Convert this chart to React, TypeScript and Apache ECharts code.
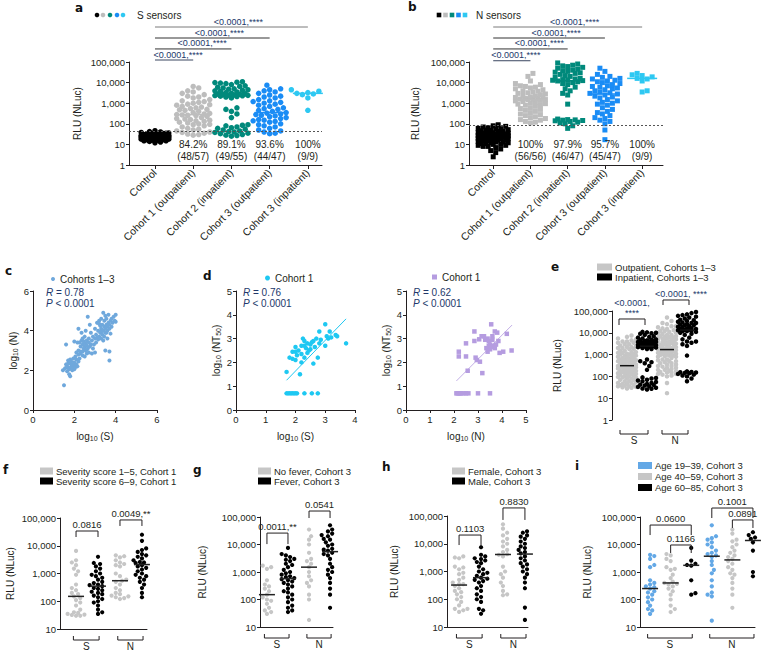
import React, { useEffect, useRef } from "react";
import * as echarts from "echarts";

/* ===================== DATA ===================== */
const sensorGroups = ["Control", "Cohort 1 (outpatient)", "Cohort 2 (inpatient)", "Cohort 3 (outpatient)", "Cohort 3 (inpatient)"];

// a – S sensors (RLU)
const sControl = [12,13,14,15,15,16,16,17,17,18,18,18,19,19,19,20,20,20,20,21,21,21,21,22,22,22,22,23,23,23,23,24,24,24,24,25,25,25,26,26,26,27,27,27,28,28,29,29,30,30,31,32,33,34,35,36,38,40,42,46];
const sCohort1Out = [6500,5500,4000,3500,3000,2600,2200,2000,1800,1500,1300,1200,1100,1000,900,850,800,700,650,600,550,500,480,450,400,350,320,300,280,270,260,250,230,200,180,170,160,150,140,130,120,110,100,95,90,80,70,60,55,50,45,40,38,35,32,30,28];
const sCohort2In = [11000,10500,10000,9500,9000,8000,7000,6500,6000,5500,5000,4800,4500,4200,4000,3800,3500,3300,3000,2900,2800,2700,2600,2500,2450,2400,2350,2300,2200,2100,2000,1800,600,500,400,300,200,90,85,80,70,65,60,55,50,45,42,40,38,35,33,30,28,27,25];
const sCohort3Out = [7500,5000,4500,4000,3500,3000,2500,2200,2000,1800,1500,1300,1200,1100,1000,900,800,700,600,550,500,450,400,350,330,300,280,260,240,220,200,180,160,150,140,130,120,100,90,80,70,60,50,45,40,35,33];
const sCohort3In = [4500,4200,3800,3300,3000,2800,2600,1800,450];
const sPercent = ["", "84.2%", "89.1%", "93.6%", "100%"];
const sFraction = ["", "(48/57)", "(49/55)", "(44/47)", "(9/9)"];
const sCutoff = 45;

// b – N sensors (RLU)
const nControl = [2.5,4,5,6,7,8,8,9,9,10,10,11,11,12,12,13,13,14,14,15,15,16,16,17,17,18,18,19,19,20,20,21,21,22,22,23,23,24,24,25,25,26,26,27,27,28,28,29,30,30,31,32,33,34,35,36,37,38,40,42,44,46,48,50,52,55,58,60,65,70,75,80,90];
const nCohort1Out = [28000,20000,12000,9000,8000,7000,6500,6000,5500,5000,4500,4000,3800,3500,3200,3000,2800,2600,2400,2200,2000,1900,1800,1700,1700,1600,1600,1500,1500,1400,1300,1200,1100,1000,950,900,850,800,700,600,550,500,450,400,350,300,280,250,220,200,180,160,150,130,120,110];
const nCohort2In = [90000,80000,70000,65000,60000,55000,50000,45000,40000,38000,35000,32000,30000,28000,25000,22000,20000,18000,16000,15000,14000,13500,13000,12500,12000,11000,10000,9000,8000,6000,5000,4000,3000,2500,900,170,160,155,150,145,140,130,120,110,100,80,60];
const nCohort3Out = [50000,35000,25000,20000,18000,16000,15000,13000,12000,11000,10000,9000,8000,7000,6500,6000,5500,5000,4500,4000,3500,3200,3000,2800,2500,2200,2000,1800,1500,1300,1100,1000,900,800,600,500,400,350,300,250,200,180,150,130,100,50,17];
const nCohort3In = [28000,24000,22000,19000,16000,15000,12000,4000,3500];
const nPercent = ["", "100%", "97.9%", "95.7%", "100%"];
const nFraction = ["", "(56/56)", "(46/47)", "(45/47)", "(9/9)"];
const nCutoff = 87;

const pAll = "<0.0001,****";

// c – log10(S) vs log10(N), cohorts 1–3
const corrSN = [
  [1.5,1.25],[1.45,2.0],[1.55,2.1],[1.6,2.3],[1.6,3.3],[1.65,2.2],[1.65,1.95],[1.7,2.15],[1.7,2.5],[1.7,2.35],[1.75,1.8],[1.75,2.05],
  [1.8,1.7],[1.8,2.35],[1.8,2.55],[1.85,2.2],[1.85,2.45],[1.85,2.15],[1.9,2.1],[1.9,2.3],[1.9,2.0],[1.95,2.2],[1.95,2.6],
  [2.0,2.25],[2.0,2.4],[2.0,3.45],[2.0,2.05],[2.05,2.15],[2.05,2.7],[2.1,2.3],[2.1,2.9],[2.1,2.55],[2.15,2.2],[2.15,3.4],
  [2.2,2.45],[2.2,3.0],[2.2,4.1],[2.2,2.8],[2.25,2.6],[2.25,3.4],[2.3,2.85],[2.3,3.2],[2.3,2.95],[2.35,3.5],[2.35,3.9],
  [2.4,2.95],[2.4,3.3],[2.4,3.6],[2.4,2.75],[2.45,3.1],[2.45,3.45],[2.5,2.7],[2.5,3.2],[2.5,3.7],[2.55,3.0],[2.55,3.35],
  [2.55,4.0],[2.6,3.25],[2.6,3.5],[2.6,2.85],[2.6,3.05],[2.65,3.1],[2.65,4.7],[2.7,3.4],[2.7,3.6],[2.7,2.9],[2.75,3.2],
  [2.75,4.3],[2.8,3.3],[2.8,3.9],[2.85,3.5],[2.85,2.85],[2.9,3.7],[2.9,3.1],[2.95,3.3],[3.0,3.6],[3.0,4.1],[3.0,2.9],
  [3.05,3.8],[3.05,3.4],[3.1,3.65],[3.1,4.4],[3.15,3.55],[3.15,4.0],[3.2,3.7],[3.2,4.5],[3.2,4.35],[3.25,3.9],[3.25,4.25],
  [3.3,3.6],[3.3,4.1],[3.3,4.6],[3.3,3.95],[3.35,3.8],[3.35,4.3],[3.4,4.0],[3.4,4.9],[3.4,3.5],[3.45,4.2],[3.45,4.5],
  [3.45,3.7],[3.5,3.9],[3.5,4.1],[3.5,4.75],[3.5,3.0],[3.55,4.3],[3.55,4.6],[3.55,3.9],[3.6,4.0],[3.6,4.2],[3.6,3.6],
  [3.65,4.4],[3.65,4.8],[3.7,4.1],[3.7,4.3],[3.7,2.5],[3.7,2.95],[3.75,4.5],[3.75,3.85],[3.8,4.2],[3.8,4.6],[3.85,4.4],
  [3.9,4.7],[3.95,4.5],[4.0,4.8],[4.0,4.45]
];
// d – log10(NT50) vs log10(S) and log10(N), cohort 1
const nt50VsS = [
  [1.7,0.7],[1.75,0.7],[1.8,0.7],[1.85,0.7],[1.9,0.7],[1.95,0.7],[2.0,0.7],[2.05,0.7],[2.3,0.7],[2.55,0.7],[2.75,0.7],
  [1.7,1.6],[1.8,2.2],[1.9,2.45],[1.9,2.15],[2.0,2.45],[2.0,2.1],[2.0,2.65],[2.05,2.3],[2.1,2.5],[2.15,1.5],[2.2,2.0],
  [2.2,2.7],[2.2,2.35],[2.25,3.0],[2.3,2.9],[2.3,2.7],[2.3,2.2],[2.35,2.6],[2.4,2.8],[2.4,2.4],[2.45,2.5],[2.5,2.55],
  [2.5,2.75],[2.55,2.85],[2.6,2.9],[2.6,1.95],[2.65,2.65],[2.7,3.0],[2.75,2.2],[2.8,3.3],[2.8,2.8],[2.85,2.95],[3.0,3.6],
  [3.0,2.7],[3.05,3.1],[3.1,3.0],[3.15,3.3],[3.2,3.05],[3.35,3.15],[3.4,3.1],[3.7,2.8]
];
const fitNt50S = [[1.7,1.25],[3.7,3.83]];
const nt50VsN = [
  [2.1,0.7],[2.15,0.7],[2.2,0.7],[2.25,0.7],[2.3,0.7],[2.4,0.7],[2.5,0.7],[2.6,0.7],[3.0,0.7],[3.5,0.7],
  [2.2,2.45],[2.2,2.25],[2.5,2.25],[2.5,2.8],[2.57,1.65],[2.85,3.3],[2.85,2.9],[2.95,2.1],[2.9,2.2],[3.08,2.03],[3.18,1.55],
  [3.05,2.97],[3.15,3.1],[3.25,3.1],[3.3,2.95],[3.35,2.6],[3.4,2.45],[3.4,3.0],[3.45,2.7],[3.45,2.9],[3.5,2.55],[3.5,2.75],
  [3.55,3.6],[3.55,2.65],[3.6,3.1],[3.6,2.95],[3.65,2.7],[3.7,3.3],[3.7,2.6],[3.75,2.75],[3.8,3.25],[3.85,2.9],[3.9,2.4],
  [4.05,2.45],[4.2,3.2],[4.4,2.5]
];
const fitNt50N = [[2.1,1.22],[4.42,3.57]];
const corrStats = [["0.78", "0.0001"], ["0.76", "0.0001"], ["0.62", "0.0001"]];

// e – outpatient vs inpatient (cohorts 1–3), from panels a and b
const ePValS = "<0.0001,\n****";
const ePValN = "<0.0001, ****";

// f – severity score, cohort 1
const sevLowS = [6500,3000,2500,2000,1500,1200,900,400,300,250,200,180,150,130,110,90,70,50,40,38,35,33,32,30,30];
const sevHighS = [4000,2400,2200,1800,1500,1200,1000,900,800,700,600,500,450,400,380,350,300,280,250,220,200,180,160,140,120,100,90,70,50,40,35];
const sevLowN = [4500,4200,3800,3000,2500,2200,2000,1800,1000,800,600,550,500,400,300,250,200,180,160,150,140,130,120];
const sevHighN = [25000,15000,8000,7000,6000,5000,4500,4000,3500,3000,2800,2600,2500,2400,2200,2000,1800,1600,1400,1200,1000,900,800,700,600,500,400,300,200,140];
// g – fever, cohort 3
const noFeverS = [1700,1500,1300,500,350,300,250,200,150,120,100,90,70,50,40,35,30];
const feverS = [7500,4500,4000,3500,3000,2800,2500,2000,1800,1500,1200,1000,900,800,700,650,600,550,500,450,400,350,300,250,200,180,150,120,100,80,60,50,40,35];
const noFeverN = [35000,20000,15000,10000,5000,3000,2500,2000,1500,1000,700,500,400,300,150,100,18];
const feverN = [50000,35000,30000,25000,22000,20000,18000,16000,15000,13000,12000,10000,9000,8000,7000,6500,6000,5500,5000,4500,4000,3500,3000,2500,2000,1500,1200,1000,800,600,400,300,250,150,50];
// h – sex, cohort 3
const femaleS = [3500,3200,3000,1500,1400,1200,900,800,600,500,400,350,350,300,250,200,180,150,120,100,80,60,45,45,40,35];
const maleS = [7500,4000,3500,3000,2800,2500,2200,2000,1500,1200,1000,900,800,700,600,550,500,450,400,300,250,200,150,120,100,80,45,40,30];
const femaleN = [50000,35000,25000,20000,15000,12000,10000,8000,6000,5000,4200,4000,3500,1500,1000,800,600,400,300,200,150,140];
const maleN = [28000,25000,20000,18000,15000,13000,12000,10000,9000,8000,7000,6000,5500,5000,4500,4000,3500,3000,2500,2000,1800,1500,1200,1000,800,600,400,250,50,18];
// i – age, cohort 3
const age1S = [4200,3800,3000,1800,1500,500,400,350,300,280,250,200,180,150,120,100,80,60,45,40,30];
const age2S = [4500,4000,3000,2500,1500,1300,1200,800,600,450,400,370,350,300,250,200,150,100,60,45,35];
const age3S = [7500,2600,2000,1800,1700,500,170,150];
const age1N = [50000,20000,17000,15000,12000,10000,8000,6000,5000,4500,4000,3500,2500,1800,1200,900,500,300,180,150,130,17];
const age2N = [35000,25000,15000,13000,10000,8000,6000,5000,4000,3500,3000,2500,2000,1500,1200,900,800,600,400,250,150,50];
const age3N = [28000,22000,18000,16000,12000,6000,1000,700];

// significance annotations: [from, to, level (RLU), text]
const sigA = [[0, 4, 5.0e6, pAll], [0, 3, 1.46e6, pAll], [0, 2, 4.3e5, pAll], [0, 1, 1.25e5, pAll]];
const sigB = [[0, 4, 5.0e6, pAll], [0, 3, 1.46e6, pAll], [0, 2, 4.3e5, pAll], [0, 1, 1.15e5, pAll]];
const sigE = [[-0.4, 0.9, 43000, ePValS], [1.8, 3.1, 320000, ePValN]];
const sigF = [[0, 1, 34000, "0.0816"], [2, 3, 85000, "0.0049,**"]];
const sigG = [[0, 1, 26000, "0.0011,**"], [2, 3, 165000, "0.0541"]];
const sigH = [[0, 1, 20600, "0.1103"], [2, 3, 195000, "0.8830"]];
const sigI = [[0, 2, 51000, "0.0600"], [1, 2, 9600, "0.1166"], [3, 5, 212000, "0.1001"], [4, 5, 78000, "0.0891"]];

/* ===================== STYLE / LAYOUT ===================== */
const FONT = "'Liberation Sans', Arial, Helvetica, sans-serif";
const TXT = "#231f20";
const NAVY = "#22386a";
const AXC = "#231f20";
const sensorColors = ["#000000", "#bdbdbd", "#00897b", "#1a8cf5", "#2ec8f2"];
const GRAY = "#c6c6c6";
const BLACK = "#000000";
const AGEBLUE = "#63a8e6";

const BOX: any = {
  a: { left: 129, top: 62, width: 193, height: 103, xmin: -0.68, xmax: 4.37, ymin: 1, ymax: 1e5 },
  b: { left: 469, top: 62, width: 194, height: 103, xmin: -0.65, xmax: 4.56, ymin: 1, ymax: 1e5 },
  c: { left: 33, top: 291, width: 124, height: 119, xmin: 0, xmax: 6, ymin: 0, ymax: 6 },
  d1: { left: 236, top: 291, width: 119, height: 119, xmin: 0, xmax: 4, ymin: 0, ymax: 5 },
  d2: { left: 406, top: 291, width: 120, height: 119, xmin: 0, xmax: 5, ymin: 0, ymax: 5 },
  e: { left: 612, top: 311, width: 90, height: 109, xmin: -0.75, xmax: 3.75, ymin: 1, ymax: 1e5 },
  f: { left: 60, top: 518, width: 87, height: 111, xmin: -0.73, xmax: 3.23, ymin: 10, ymax: 1e5 },
  g: { left: 260, top: 517, width: 73, height: 110, xmin: -0.33, xmax: 3.14, ymin: 10, ymax: 1e5 },
  h: { left: 447, top: 516, width: 81, height: 111, xmin: -0.55, xmax: 3.14, ymin: 10, ymax: 1e5 },
  i: { left: 640, top: 517, width: 115, height: 110, xmin: -0.49, xmax: 5.1, ymin: 10, ymax: 1e5 },
};
const ORDER = ["a", "b", "c", "d1", "d2", "e", "f", "g", "h", "i"];
const GI: any = {};
ORDER.forEach((k, i) => (GI[k] = i));

function median(a: number[]) {
  const s = [...a].sort((x, y) => x - y);
  const n = s.length;
  return n % 2 ? s[(n - 1) / 2] : (s[n / 2 - 1] + s[n / 2]) / 2;
}

// deterministic beeswarm layout (x offsets only, values untouched)
function swarm(values: number[], center: number, box: any, dot: number, maxHalf: number) {
  const pxX = box.width / (box.xmax - box.xmin);
  const pxY = box.height / (Math.log10(box.ymax) - Math.log10(box.ymin));
  const pts = values.map((v) => ({ v, py: Math.log10(v) * pxY })).sort((a, b) => a.py - b.py);
  const placed: any[] = [];
  const out: any[] = [];
  const step = dot / 2;
  const n = Math.max(0, Math.floor(maxHalf / step));
  pts.forEach((p, idx) => {
    const sgn = idx % 2 ? 1 : -1;
    let best = 0;
    let bestD = -1;
    for (let k = 0; k <= 2 * n; k++) {
      const off = k === 0 ? 0 : (k % 2 ? sgn : -sgn) * Math.ceil(k / 2) * step;
      let minD = Infinity;
      for (const q of placed) {
        const dy = q.py - p.py;
        if (Math.abs(dy) >= dot) continue;
        const d = Math.hypot(q.px - off, dy);
        if (d < minD) minD = d;
      }
      if (minD >= dot * 0.92) { best = off; bestD = minD; break; }
      if (minD > bestD) { bestD = minD; best = off; }
    }
    placed.push({ px: best, py: p.py });
    out.push([center + best / pxX, p.v]);
  });
  return out;
}

const tickLabel = { fontSize: 9.5, color: TXT, fontFamily: FONT };
const axisLine = { show: true, onZero: false, lineStyle: { color: AXC, width: 1 } };
const fmtRLU = (v: number) => Math.round(v).toLocaleString("en-US");

function logY(k: string, nameGap: number) {
  const b = BOX[k];
  return {
    gridIndex: GI[k], type: "log", logBase: 10, min: b.ymin, max: b.ymax,
    axisLine, axisTick: { show: true, length: 3, lineStyle: { color: AXC } },
    axisLabel: { ...tickLabel, margin: 4, formatter: fmtRLU },
    splitLine: { show: false },
    name: "RLU (NLuc)", nameLocation: "middle", nameGap, nameRotate: 90,
    nameTextStyle: { fontSize: 10, color: TXT, fontFamily: FONT },
  };
}
function groupX(k: string, showLine: boolean, labels?: string[]) {
  const b = BOX[k];
  const ax: any = {
    gridIndex: GI[k], type: "value", min: b.xmin, max: b.xmax, show: true,
    axisLine: { ...axisLine, show: showLine }, axisTick: { show: false }, splitLine: { show: false },
    axisLabel: { show: false },
  };
  if (labels) {
    const vals = labels.map((_, i) => i);
    ax.axisTick = { show: true, customValues: vals, length: 4, lineStyle: { color: AXC } };
    ax.axisLabel = {
      show: true, customValues: vals, rotate: 45, margin: 6,
      fontSize: 10.5, color: TXT, fontFamily: FONT,
      formatter: (v: number) => labels[Math.round(v)] ?? "",
    };
  }
  return ax;
}
const subRich = {
  t: { fontSize: 10, color: TXT, fontFamily: FONT },
  s: { fontSize: 7, color: TXT, fontFamily: FONT, padding: [5, 0, 0, 0] },
};
function linAxis(k: string, dim: "x" | "y", min: number, max: number, interval: number, name: string, nameGap: number) {
  return {
    gridIndex: GI[k], type: "value", min, max, interval,
    axisLine, axisTick: { show: true, length: 3, lineStyle: { color: AXC } },
    axisLabel: { ...tickLabel, margin: 4 }, splitLine: { show: false },
    name, nameLocation: "middle", nameGap, nameRotate: dim === "y" ? 90 : 0,
    nameTextStyle: { rich: subRich },
  };
}

function scatter(name: string, k: string, data: any[], color: string, size: number, symbol = "circle", extra: any = {}) {
  return {
    type: "scatter", name, xAxisIndex: GI[k], yAxisIndex: GI[k], data, symbol, symbolSize: size,
    itemStyle: { color, opacity: 1 }, silent: true, emphasis: { disabled: true }, z: 2, ...extra,
  };
}
function medianSeries(k: string, items: any[]) {
  return {
    type: "custom", xAxisIndex: GI[k], yAxisIndex: GI[k], clip: false, silent: true, z: 5,
    data: items.map((m) => [m.x, m.v]),
    renderItem: (params: any, api: any) => {
      const m = items[params.dataIndex];
      const p = api.coord([m.x, m.v]);
      return { type: "line", shape: { x1: p[0] - m.half, y1: p[1], x2: p[0] + m.half, y2: p[1] }, style: { stroke: m.color, lineWidth: 1.5 } };
    },
  };
}
// sig: [x1,x2,level,text]; tick px downward
function sigSeries(k: string, sig: any[], opts: any) {
  return {
    type: "custom", xAxisIndex: GI[k], yAxisIndex: GI[k], clip: false, silent: true, z: 6,
    data: sig.map((s) => [s[0], s[2]]),
    renderItem: (params: any, api: any) => {
      const s = sig[params.dataIndex];
      const p1 = api.coord([s[0], s[2]]);
      const p2 = api.coord([s[1], s[2]]);
      const y = p1[1];
      const t = opts.ticks ? opts.ticks[params.dataIndex] : 0;
      const color = opts.lineColors ? opts.lineColors[params.dataIndex] : AXC;
      const dx = Array.isArray(opts.dx) ? opts.dx[params.dataIndex] : opts.dx || 0;
      return {
        type: "group",
        children: [
          { type: "polyline", shape: { points: [[p1[0], y + t], [p1[0], y], [p2[0], y], [p2[0], y + t]] }, style: { stroke: color, fill: "none", lineWidth: 1 } },
          { type: "text", x: (p1[0] + p2[0]) / 2 + dx, y: y - 1, style: { text: s[3], fill: opts.textColor, fontSize: opts.fontSize, fontFamily: FONT, align: "center", verticalAlign: "bottom", lineHeight: opts.lineHeight || 11 } },
        ],
      };
    },
  };
}
// bottom group brackets: [x1,x2,label]
function bottomBrackets(k: string, items: any[], off: number) {
  const b = BOX[k];
  return {
    type: "custom", xAxisIndex: GI[k], yAxisIndex: GI[k], clip: false, silent: true, z: 6,
    data: items.map((s) => [s[0], b.ymin]),
    renderItem: (params: any, api: any) => {
      const s = items[params.dataIndex];
      const p1 = api.coord([s[0], b.ymin]);
      const p2 = api.coord([s[1], b.ymin]);
      const y = p1[1] + off;
      return {
        type: "group",
        children: [
          { type: "polyline", shape: { points: [[p1[0], y - 4], [p1[0], y], [p2[0], y], [p2[0], y - 4]] }, style: { stroke: AXC, fill: "none", lineWidth: 1 } },
          { type: "text", x: (p1[0] + p2[0]) / 2, y: y + 1.5, style: { text: s[2], fill: TXT, fontSize: 10, fontFamily: FONT, align: "center", verticalAlign: "top" } },
        ],
      };
    },
  };
}
function groupTexts(k: string, items: any[]) {
  return {
    type: "custom", xAxisIndex: GI[k], yAxisIndex: GI[k], clip: false, silent: true, z: 6,
    data: items.map((s) => [s.x, s.v]),
    renderItem: (params: any, api: any) => {
      const s = items[params.dataIndex];
      const p = api.coord([s.x, s.v]);
      return { type: "text", x: p[0], y: p[1] - 6, style: { text: s.text, fill: TXT, fontSize: 10, fontFamily: FONT, align: "center", verticalAlign: "top", lineHeight: 12 } };
    },
  };
}

function buildOption() {
  const grid = ORDER.map((k) => ({ left: BOX[k].left, top: BOX[k].top, width: BOX[k].width, height: BOX[k].height }));
  const xAxis: any[] = [];
  const yAxis: any[] = [];
  const series: any[] = [];

  // ---- a & b ----
  const sensorPanels = [
    { k: "a", groups: [sControl, sCohort1Out, sCohort2In, sCohort3Out, sCohort3In], sym: "circle", size: 5.5, pct: sPercent, frac: sFraction, cut: sCutoff, sig: sigA, gap: 47, tag: "S" },
    { k: "b", groups: [nControl, nCohort1Out, nCohort2In, nCohort3Out, nCohort3In], sym: "rect", size: 5, pct: nPercent, frac: nFraction, cut: nCutoff, sig: sigB, gap: 49, tag: "N" },
  ];
  sensorPanels.forEach((P) => {
    xAxis.push(groupX(P.k, true, sensorGroups));
    yAxis.push(logY(P.k, P.gap));
    P.groups.forEach((vals, gi) => {
      const extra = gi === 0 ? {
        markLine: { silent: true, symbol: "none", label: { show: false }, lineStyle: { type: [2, 2], color: "#555", width: 1 }, data: [{ yAxis: P.cut }] },
      } : {};
      series.push(scatter(`${P.tag} ${sensorGroups[gi]}`, P.k, swarm(vals, gi, BOX[P.k], P.size, gi === 0 ? 15 : 17), sensorColors[gi], P.size, P.sym, extra));
    });
    series.push(medianSeries(P.k, P.groups.map((vals, gi) => ({ x: gi, v: median(vals), color: sensorColors[gi], half: gi === 0 ? 11 : 15 }))));
    series.push(groupTexts(P.k, [1, 2, 3, 4].map((gi) => ({ x: gi, v: BOX[P.k].ymin * 10, text: `${P.pct[gi]}\n${P.frac[gi]}` }))));
    series.push(sigSeries(P.k, P.sig, { textColor: NAVY, fontSize: 9, lineHeight: 9, dx: [7, 7, 9, 4], lineColors: ["#7a7a7a", "#333", "#333", "#3a4660"] }));
  });

  // ---- c ----
  xAxis.push(linAxis("c", "x", 0, 6, 2, "{t|log}{s|10}{t| (S)}", 20));
  yAxis.push(linAxis("c", "y", 0, 6, 2, "{t|log}{s|10}{t| (N)}", 14));
  series.push(scatter("Cohorts 1–3", "c", corrSN, "#6fa8dc", 4));
  // ---- d ----
  xAxis.push(linAxis("d1", "x", 0, 4, 1, "{t|log}{s|10}{t| (S)}", 20));
  yAxis.push(linAxis("d1", "y", 0, 5, 1, "{t|log}{s|10}{t| (NT}{s|50}{t|)}", 14));
  series.push(scatter("Cohort 1 (S)", "d1", nt50VsS, "#1ec8f2", 4.5));
  series.push({ type: "line", xAxisIndex: GI.d1, yAxisIndex: GI.d1, data: fitNt50S, symbol: "none", silent: true, lineStyle: { color: "#1ec8f2", width: 1 }, z: 1 });
  xAxis.push(linAxis("d2", "x", 0, 5, 1, "{t|log}{s|10}{t| (N)}", 20));
  yAxis.push(linAxis("d2", "y", 0, 5, 1, "{t|log}{s|10}{t| (NT}{s|50}{t|)}", 14));
  series.push(scatter("Cohort 1 (N)", "d2", nt50VsN, "#b59ce0", 4.5, "rect"));
  series.push({ type: "line", xAxisIndex: GI.d2, yAxisIndex: GI.d2, data: fitNt50N, symbol: "none", silent: true, lineStyle: { color: "#c2aee6", width: 1 }, z: 1 });

  // ---- e ----
  const eGroups = [[...sCohort1Out, ...sCohort3Out], [...sCohort2In, ...sCohort3In], [...nCohort1Out, ...nCohort3Out], [...nCohort2In, ...nCohort3In]];
  xAxis.push({ ...groupX("e", false), show: false });
  yAxis.push(logY("e", 50));
  const eNames = ["Outpatient, Cohorts 1–3", "Inpatient, Cohorts 1–3"];
  const eColors = [GRAY, BLACK];
  [0, 1].forEach((c) => {
    const pts = eGroups.flatMap((vals, gi) => (gi % 2 === c ? swarm(vals, gi, BOX.e, 4.5, 9) : []));
    series.push(scatter(eNames[c], "e", pts, eColors[c], 4.5));
  });
  series.push(medianSeries("e", eGroups.map((vals, gi) => ({ x: gi, v: median(vals), color: "#111", half: 7 }))));
  series.push(sigSeries("e", sigE, { textColor: NAVY, fontSize: 9, ticks: [6, 5], lineHeight: 10, dx: [0, 5] }));
  series.push(bottomBrackets("e", [[-0.35, 1.05, "S"], [1.75, 3.05, "N"]], 14));

  // ---- f–i ----
  const smallPanels = [
    { k: "f", names: ["Severity score 1–5, Cohort 1", "Severity score 6–9, Cohort 1"], colors: [GRAY, BLACK], groups: [[sevLowS, sevHighS], [sevLowN, sevHighN]], sig: sigF, ticks: [6, 6], gap: 45 },
    { k: "g", names: ["No fever, Cohort 3", "Fever, Cohort 3"], colors: [GRAY, BLACK], groups: [[noFeverS, feverS], [noFeverN, feverN]], sig: sigG, ticks: [11, 7], gap: 53 },
    { k: "h", names: ["Female, Cohort 3", "Male, Cohort 3"], colors: [GRAY, BLACK], groups: [[femaleS, maleS], [femaleN, maleN]], sig: sigH, ticks: [10, 12], gap: 48 },
    { k: "i", names: ["Age 19–39, Cohort 3", "Age 40–59, Cohort 3", "Age 60–85, Cohort 3"], colors: [AGEBLUE, GRAY, BLACK], groups: [[age1S, age2S, age3S], [age1N, age2N, age3N]], sig: sigI, ticks: [10, 8, 10, 8], gap: 48 },
  ];
  smallPanels.forEach((P) => {
    xAxis.push(groupX(P.k, true));
    yAxis.push(logY(P.k, P.gap));
    const nc = P.names.length;
    const meds: any[] = [];
    P.names.forEach((name, c) => {
      const pts: any[] = [];
      P.groups.forEach((set, si) => {
        const gx = si * nc + c;
        pts.push(...swarm(set[c], gx, BOX[P.k], 4.2, 9));
        meds.push({ x: gx, v: median(set[c]), color: "#222", half: 8 });
      });
      series.push(scatter(name, P.k, pts, P.colors[c], 4.2));
    });
    series.push(medianSeries(P.k, meds));
    series.push(sigSeries(P.k, P.sig, { textColor: TXT, fontSize: 9.5, ticks: P.ticks }));
    series.push(bottomBrackets(P.k, [[-0.12, nc - 1 + 0.05, "S"], [nc - 0.1, 2 * nc - 1 + 0.05, "N"]], 11));
  });

  // ---- legends ----
  const lg = (o: any) => ({
    orient: "vertical", selectedMode: false, padding: 0, itemGap: 0, icon: "rect", itemWidth: 14, itemHeight: 7,
    textStyle: { fontSize: 9.5, fontFamily: FONT, color: TXT, lineHeight: 10, padding: [0, 0, 0, -2] }, ...o,
  });
  const legend = [
    lg({ left: 51, top: 274, data: ["Cohorts 1–3"], icon: "circle", itemWidth: 4, itemHeight: 4, textStyle: { fontSize: 10, fontFamily: FONT, color: TXT, lineHeight: 10 } }),
    lg({ left: 265, top: 273, data: ["Cohort 1 (S)"], icon: "circle", itemWidth: 5, itemHeight: 5, formatter: () => "Cohort 1", textStyle: { fontSize: 10, fontFamily: FONT, color: TXT, lineHeight: 10 } }),
    lg({ left: 432, top: 272, data: ["Cohort 1 (N)"], icon: "rect", itemWidth: 5, itemHeight: 5, formatter: () => "Cohort 1", textStyle: { fontSize: 10, fontFamily: FONT, color: TXT, lineHeight: 10 } }),
    lg({ left: 597, top: 262, data: eNames, itemWidth: 15 }),
    lg({ left: 40, top: 466, data: smallPanels[0].names, itemWidth: 13 }),
    lg({ left: 258, top: 466, data: smallPanels[1].names, itemWidth: 13 }),
    lg({ left: 452, top: 466, data: smallPanels[2].names, itemWidth: 13 }),
    lg({ left: 638, top: 460, data: smallPanels[3].names, itemWidth: 14, textStyle: { fontSize: 9.5, fontFamily: FONT, color: TXT, lineHeight: 11, padding: [0, 0, 0, -2] } }),
  ];

  // ---- graphic: panel letters, a/b legends, stats ----
  const letters: any[] = [["a", 75, 8], ["b", 408, 7], ["c", 5, 271], ["d", 203, 276], ["e", 551, 267], ["f", 3, 470], ["g", 193, 470], ["h", 382, 467], ["i", 575, 466]];
  const graphic: any[] = letters.map(([t, x, y]) => ({
    type: "text", x, y, silent: true,
    style: { text: t, fill: "#111", fontSize: 12, fontWeight: "bold", fontFamily: "'DejaVu Sans', Arial, sans-serif", align: "left", verticalAlign: "middle" },
  }));
  const dotsX = [97, 103, 110, 117, 123];
  dotsX.forEach((x, i) => graphic.push({ type: "circle", silent: true, shape: { cx: x, cy: 15, r: 2.3 }, style: { fill: sensorColors[i] } }));
  graphic.push({ type: "text", x: 137, y: 15, silent: true, style: { text: "S sensors", fill: TXT, fontSize: 10, fontFamily: FONT, verticalAlign: "middle" } });
  const sqX = [439, 445.5, 452, 458.5, 465];
  sqX.forEach((x, i) => graphic.push({ type: "rect", silent: true, shape: { x: x - 2.3, y: 12.7, width: 4.6, height: 4.6 }, style: { fill: sensorColors[i] } }));
  graphic.push({ type: "text", x: 476, y: 15, silent: true, style: { text: "N sensors", fill: TXT, fontSize: 10, fontFamily: FONT, verticalAlign: "middle" } });
  const statPos = [[46, 298], [243, 298], [413, 298]];
  statPos.forEach(([x, y], i) => {
    graphic.push({
      type: "text", x, y, silent: true,
      style: {
        text: `{i|R}{n| = ${corrStats[i][0]}}\n{i|P}{n| < ${corrStats[i][1]}}`, verticalAlign: "middle", lineHeight: 11,
        rich: { i: { fontStyle: "italic", fontSize: 10, fill: NAVY, fontFamily: FONT }, n: { fontSize: 10, fill: NAVY, fontFamily: FONT } },
      },
    });
  });

  return { animation: false, backgroundColor: "#fff", textStyle: { fontFamily: FONT }, grid, xAxis, yAxis, series, legend, graphic };
}

export default function App() {
  const ref = useRef<HTMLDivElement>(null);
  useEffect(() => {
    const chart = echarts.init(ref.current as HTMLDivElement, null, { renderer: "svg" });
    chart.setOption(buildOption() as any);
    return () => chart.dispose();
  }, []);
  return <div ref={ref} style={{ position: "fixed", left: 0, top: 0, width: 772, height: 656, background: "#fff" }} />;
}
